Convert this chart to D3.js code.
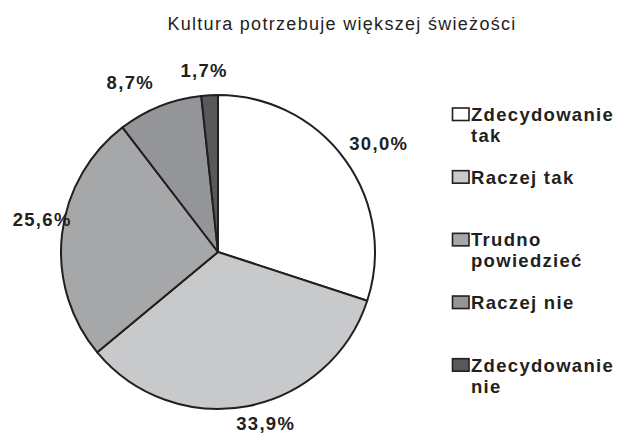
<!DOCTYPE html>
<html>
<head>
<meta charset="utf-8">
<script src="https://cdn.jsdelivr.net/npm/d3@7"></script>
<style>
  body { margin: 0; background: #fff; }
  svg { display: block; font-family: "Liberation Sans", Arial, sans-serif; }
  .title { font-size: 18px; fill: #231f20; letter-spacing: 1.3px; }
  .lbl, .leg { font-size: 18.5px; font-weight: bold; fill: #231f20; letter-spacing: 1.3px; }
</style>
</head>
<body>
<div id="chart"></div>
<script>
const title = "Kultura potrzebuje większej świeżości";
const categories = ["Zdecydowanie tak", "Raczej tak", "Trudno powiedzieć", "Raczej nie", "Zdecydowanie nie"];
const legendLines = [["Zdecydowanie", "tak"], ["Raczej tak"], ["Trudno", "powiedzieć"], ["Raczej nie"], ["Zdecydowanie", "nie"]];
const values = [30.0, 33.9, 25.6, 8.7, 1.7];
const labels = ["30,0%", "33,9%", "25,6%", "8,7%", "1,7%"];
const colors = ["#ffffff", "#c8c9cb", "#a6a7a9", "#939598", "#58595b"];

// small manual nudges for labels, like the hand-placed ones in the original
const labelShift = [[11, 0], [13, -11], [8, -12], [-19, 2], [-4, 3]];

const width = 621, height = 434;
const cx = 218, cy = 252, r = 157;

const svg = d3.select("#chart").append("svg")
    .attr("width", width)
    .attr("height", height);

svg.append("text")
    .attr("class", "title")
    .attr("x", 342)
    .attr("y", 29.5)
    .attr("text-anchor", "middle")
    .text(title);

const pie = d3.pie().sort(null).value(d => d);
const arcs = pie(values);
const arc = d3.arc().innerRadius(0).outerRadius(r);
const labelArc = d3.arc().innerRadius(185).outerRadius(185);

const g = svg.append("g").attr("transform", `translate(${cx},${cy})`);

g.selectAll("path")
    .data(arcs)
    .join("path")
    .attr("d", arc)
    .attr("fill", (d, i) => colors[i])
    .attr("stroke", "#231f20")
    .attr("stroke-width", 2)
    .attr("stroke-linejoin", "round");

g.selectAll("text.lbl")
    .data(arcs)
    .join("text")
    .attr("class", "lbl")
    .attr("text-anchor", "middle")
    .attr("x", (d, i) => labelArc.centroid(d)[0] + labelShift[i][0])
    .attr("y", (d, i) => labelArc.centroid(d)[1] + labelShift[i][1] + 7)
    .text((d, i) => labels[i]);

// legend
const legY = d3.scaleLinear().domain([0, categories.length - 1]).range([121, 371.7]);
const leg = svg.append("g");
legendLines.forEach((lines, i) => {
    const y = legY(i);
    leg.append("rect")
        .attr("x", 452.5)
        .attr("y", y - 13)
        .attr("width", 16.5)
        .attr("height", 12.5)
        .attr("fill", colors[i])
        .attr("stroke", "#231f20")
        .attr("stroke-width", 1.6);
    lines.forEach((t, j) => {
        leg.append("text")
            .attr("class", "leg")
            .attr("x", 471)
            .attr("y", y + j * 21)
            .text(t);
    });
});
</script>
</body>
</html>
